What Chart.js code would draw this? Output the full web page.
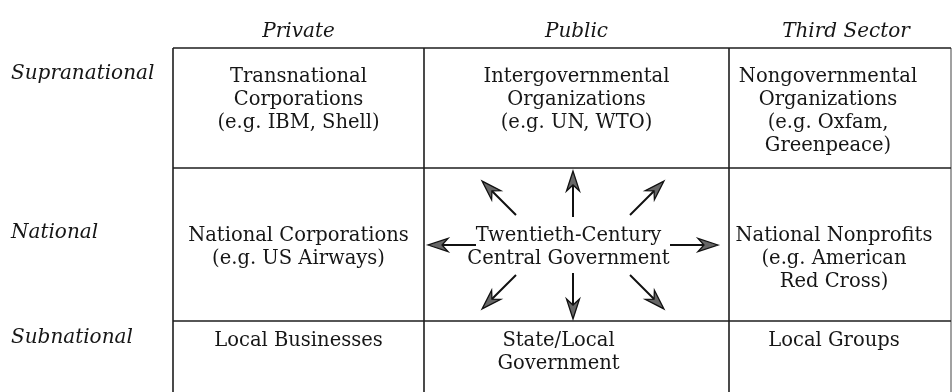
<!DOCTYPE html>
<html>
<head>
<meta charset="utf-8">
<script src="https://cdn.jsdelivr.net/npm/chart.js@4.4.1/dist/chart.umd.min.js"></script>
<style>
html, body { margin: 0; padding: 0; background: #fff; }
#wrap { width: 952px; height: 392px; }
</style>
</head>
<body>
<div id="wrap"><canvas id="chart" width="952" height="392"></canvas></div>
<script>
// Column headings (sectors) and row headings (levels)
const sectors = ['Private', 'Public', 'Third Sector'];
const levels = ['Supranational', 'National', 'Subnational'];

// Cell texts, one array per row, one entry per sector
const supranationalCells = [
    ['Transnational', 'Corporations', '(e.g. IBM, Shell)'],
    ['Intergovernmental', 'Organizations', '(e.g. UN, WTO)'],
    ['Nongovernmental', 'Organizations', '(e.g. Oxfam,', 'Greenpeace)']
];
const nationalCells = [
    ['National Corporations', '(e.g. US Airways)'],
    ['Twentieth-Century', 'Central Government'],
    ['National Nonprofits', '(e.g. American', 'Red Cross)']
];
const subnationalCells = [
    ['Local Businesses'],
    ['State/Local', 'Government'],
    ['Local Groups']
];
const cellRows = [supranationalCells, nationalCells, subnationalCells];

// Arrows leaving central government
const arrowDirections = ['N', 'NE', 'E', 'SE', 'S', 'SW', 'W', 'NW'];

// Layout (page units = pixels)
const layout = {
    width: 952,
    height: 392,
    colEdges: [173, 424, 729, 951],
    rowEdges: [48, 168, 321],
    headerBaseline: 37,
    headerShift: [0, 0, 6],
    labelX: 11,
    rowBaselines: [82, 241, 346],
    labelLift: 3,
    lineHeight: 23,
    cellShift: [[0, 0, -12], [0, -8, -6], [0, -18, -6]],
    hub: { x: 573, y: 245 },
    arrowTail: { axis: 28, side: 97, diagX: 57, diagY: 30 },
    arrowLength: { axis: 44, side: 46, diag: 46 }
};

const directionVectors = {
    N: [0, -1], NE: [1, -1], E: [1, 0], SE: [1, 1],
    S: [0, 1], SW: [-1, 1], W: [-1, 0], NW: [-1, -1]
};

function buildTableLines() {
    const lines = [];
    const c = layout.colEdges;
    layout.rowEdges.forEach(function(r) {
        lines.push({ pts: [{ x: c[0], y: r }, { x: c[c.length - 1], y: r }], color: '#1e1e1e' });
    });
    c.forEach(function(cx, i) {
        lines.push({
            pts: [{ x: cx, y: layout.rowEdges[0] }, { x: cx, y: layout.height }],
            color: i === c.length - 1 ? '#8a8a8a' : '#1e1e1e'
        });
    });
    return lines.map(function(l) {
        return {
            label: 'grid',
            data: l.pts,
            showLine: true,
            borderColor: l.color,
            borderWidth: 1.6,
            pointRadius: 0,
            clip: false
        };
    });
}

function buildArrows() {
    const h = layout.hub, t = layout.arrowTail, len = layout.arrowLength;
    return arrowDirections.map(function(d) {
        const v = directionVectors[d];
        let tail, L;
        if (v[0] !== 0 && v[1] !== 0) {
            tail = { x: h.x + v[0] * t.diagX, y: h.y + v[1] * t.diagY };
            L = len.diag / Math.SQRT2;
            return mk(tail, { x: tail.x + v[0] * L, y: tail.y + v[1] * L });
        } else if (v[0] === 0) {
            tail = { x: h.x, y: h.y + v[1] * t.axis };
            return mk(tail, { x: tail.x, y: tail.y + v[1] * len.axis });
        }
        tail = { x: h.x + v[0] * t.side, y: h.y };
        return mk(tail, { x: tail.x + v[0] * len.side, y: tail.y });
    });

    function mk(a, b) {
        return {
            label: 'arrow',
            data: [a, b],
            showLine: true,
            borderColor: '#111',
            borderWidth: 2,
            pointRadius: 0,
            clip: false
        };
    }
}

// Draws arrowheads and all diagram text on top of the datasets
const diagramPlugin = {
    id: 'diagramPlugin',
    afterDatasetsDraw(chart) {
        const ctx = chart.ctx;
        const xs = chart.scales.x, ys = chart.scales.y;
        const px = function(v) { return xs.getPixelForValue(v); };
        const py = function(v) { return ys.getPixelForValue(v); };

        // arrowheads (narrow darts)
        chart.data.datasets.forEach(function(ds, i) {
            if (ds.label !== 'arrow') return;
            const pts = chart.getDatasetMeta(i).data;
            const a = pts[0], b = pts[1];
            const ang = Math.atan2(b.y - a.y, b.x - a.x);
            ctx.save();
            ctx.translate(b.x, b.y);
            ctx.rotate(ang);
            ctx.beginPath();
            ctx.moveTo(2, 0);
            ctx.lineTo(-18, -6.5);
            ctx.lineTo(-12, 0);
            ctx.lineTo(-18, 6.5);
            ctx.closePath();
            ctx.fillStyle = '#666';
            ctx.fill();
            ctx.strokeStyle = '#111';
            ctx.lineWidth = 1.3;
            ctx.stroke();
            ctx.restore();
        });

        ctx.save();
        ctx.fillStyle = '#161616';
        ctx.textBaseline = 'alphabetic';

        // column headings
        ctx.font = 'italic 20px "DejaVu Serif"';
        ctx.textAlign = 'center';
        sectors.forEach(function(s, i) {
            const cx = (layout.colEdges[i] + layout.colEdges[i + 1]) / 2 + layout.headerShift[i];
            ctx.fillText(s, px(cx), py(layout.headerBaseline));
        });

        // row headings
        ctx.textAlign = 'left';
        levels.forEach(function(s, r) {
            ctx.fillText(s, px(layout.labelX), py(layout.rowBaselines[r] - layout.labelLift));
        });

        // cells
        ctx.font = '19.5px "DejaVu Serif"';
        ctx.textAlign = 'center';
        cellRows.forEach(function(row, r) {
            row.forEach(function(lines, c) {
                const cx = (layout.colEdges[c] + layout.colEdges[c + 1]) / 2 + layout.cellShift[r][c];
                lines.forEach(function(t, k) {
                    ctx.fillText(t, px(cx), py(layout.rowBaselines[r] + k * layout.lineHeight));
                });
            });
        });
        ctx.restore();
    }
};

const chartCtx = document.getElementById('chart').getContext('2d');
new Chart(chartCtx, {
    type: 'scatter',
    data: { datasets: buildTableLines().concat(buildArrows()) },
    options: {
        responsive: false,
        animation: false,
        events: [],
        layout: { padding: 0 },
        plugins: {
            legend: { display: false },
            tooltip: { enabled: false }
        },
        scales: {
            x: { type: 'linear', min: 0, max: layout.width, display: false },
            y: { type: 'linear', min: 0, max: layout.height, reverse: true, display: false }
        }
    },
    plugins: [diagramPlugin]
});
</script>
</body>
</html>
